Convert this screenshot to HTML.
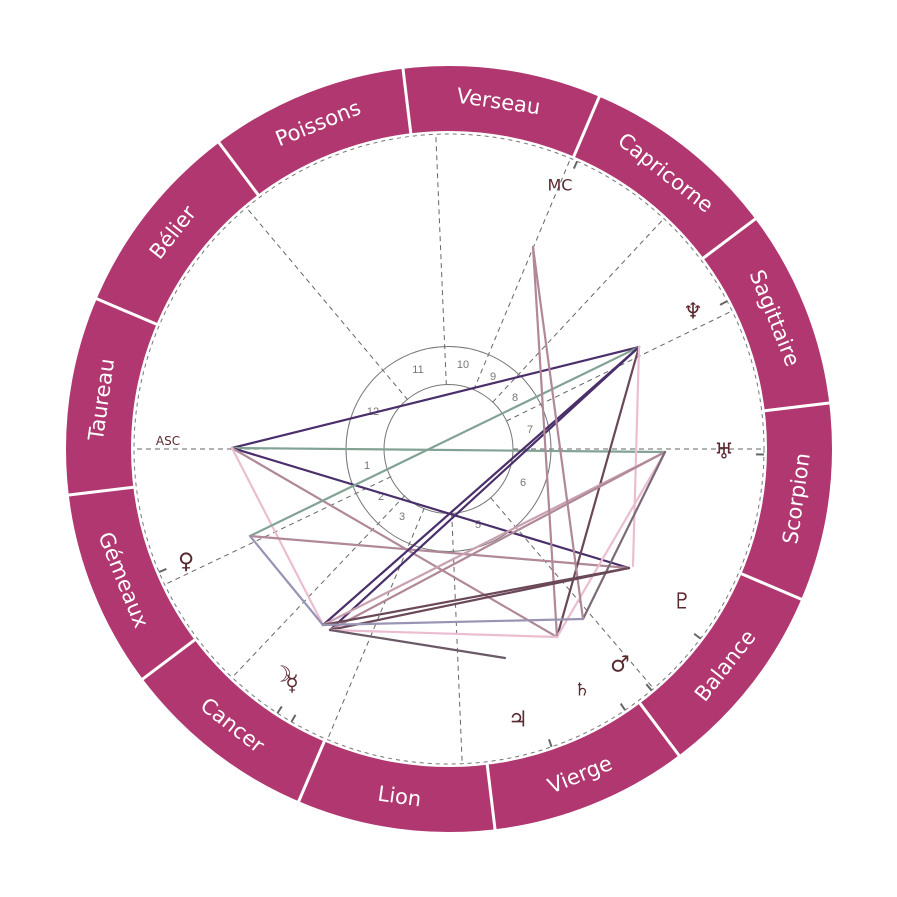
<!DOCTYPE html>
<html><head><meta charset="utf-8"><style>
html,body{margin:0;padding:0;background:#fff;}
svg{display:block;}
.sg{font-family:"DejaVu Sans","Liberation Sans",sans-serif;font-size:21px;fill:#fff;}
.hn{font-family:"Liberation Sans",sans-serif;font-size:11px;fill:#777;}
.pl{font-family:"DejaVu Sans",sans-serif;font-size:22px;fill:#5a2a30;}
</style></head><body>
<svg width="897" height="897" viewBox="0 0 897 897" xmlns="http://www.w3.org/2000/svg">
<circle cx="449" cy="449" r="350.5" fill="none" stroke="#b0376f" stroke-width="65"/>
<g transform="translate(449,449)" stroke="#fff" stroke-width="3">
<g transform="rotate(-6.9)"><line x1="316" y1="0" x2="385" y2="0"/></g>
<g transform="rotate(23.1)"><line x1="316" y1="0" x2="385" y2="0"/></g>
<g transform="rotate(53.1)"><line x1="316" y1="0" x2="385" y2="0"/></g>
<g transform="rotate(83.1)"><line x1="316" y1="0" x2="385" y2="0"/></g>
<g transform="rotate(113.1)"><line x1="316" y1="0" x2="385" y2="0"/></g>
<g transform="rotate(143.1)"><line x1="316" y1="0" x2="385" y2="0"/></g>
<g transform="rotate(173.1)"><line x1="316" y1="0" x2="385" y2="0"/></g>
<g transform="rotate(203.1)"><line x1="316" y1="0" x2="385" y2="0"/></g>
<g transform="rotate(233.1)"><line x1="316" y1="0" x2="385" y2="0"/></g>
<g transform="rotate(263.1)"><line x1="316" y1="0" x2="385" y2="0"/></g>
<g transform="rotate(293.1)"><line x1="316" y1="0" x2="385" y2="0"/></g>
<g transform="rotate(323.1)"><line x1="316" y1="0" x2="385" y2="0"/></g>
</g>
<g transform="translate(449,449)" class="sg" text-anchor="middle" dominant-baseline="central">
<g transform="rotate(188.1)"><text transform="translate(351,0) rotate(90)">Taureau</text></g>
<g transform="rotate(218.1)"><text transform="translate(351,0) rotate(90)">Bélier</text></g>
<g transform="rotate(248.1)"><text transform="translate(351,0) rotate(90)">Poissons</text></g>
<g transform="rotate(278.1)"><text transform="translate(351,0) rotate(90)">Verseau</text></g>
<g transform="rotate(308.1)"><text transform="translate(351,0) rotate(90)">Capricorne</text></g>
<g transform="rotate(338.1)"><text transform="translate(351,0) rotate(90)">Sagittaire</text></g>
<g transform="rotate(8.1)"><text transform="translate(351,0) rotate(-90)">Scorpion</text></g>
<g transform="rotate(38.1)"><text transform="translate(351,0) rotate(-90)">Balance</text></g>
<g transform="rotate(68.1)"><text transform="translate(351,0) rotate(-90)">Vierge</text></g>
<g transform="rotate(98.1)"><text transform="translate(351,0) rotate(-90)">Lion</text></g>
<g transform="rotate(128.1)"><text transform="translate(351,0) rotate(-90)">Cancer</text></g>
<g transform="rotate(158.1)"><text transform="translate(351,0) rotate(-90)">Gémeaux</text></g>
</g>
<circle cx="449" cy="449" r="315" fill="none" stroke="#777" stroke-width="1" stroke-dasharray="4,4"/>
<g transform="translate(449,449)" stroke="#666" stroke-width="1" stroke-dasharray="5,4">
<g transform="rotate(0)"><line x1="64" y1="0" x2="315" y2="0"/></g>
<g transform="rotate(49.5)"><line x1="64" y1="0" x2="315" y2="0"/></g>
<g transform="rotate(87.6)"><line x1="64" y1="0" x2="315" y2="0"/></g>
<g transform="rotate(112.7)"><line x1="64" y1="0" x2="315" y2="0"/></g>
<g transform="rotate(133.5)"><line x1="64" y1="0" x2="315" y2="0"/></g>
<g transform="rotate(154.5)"><line x1="64" y1="0" x2="315" y2="0"/></g>
<g transform="rotate(180)"><line x1="64" y1="0" x2="315" y2="0"/></g>
<g transform="rotate(230)"><line x1="64" y1="0" x2="315" y2="0"/></g>
<g transform="rotate(267.6)"><line x1="64" y1="0" x2="315" y2="0"/></g>
<g transform="rotate(292.7)"><line x1="64" y1="0" x2="315" y2="0"/></g>
<g transform="rotate(313)"><line x1="64" y1="0" x2="315" y2="0"/></g>
<g transform="rotate(334)"><line x1="64" y1="0" x2="315" y2="0"/></g>
</g>
<g transform="translate(449,449)" stroke="#666" stroke-width="2">
<g transform="rotate(-28)"><line x1="307" y1="0" x2="315" y2="0"/></g>
<g transform="rotate(1)"><line x1="307" y1="0" x2="315" y2="0"/></g>
<g transform="rotate(37)"><line x1="307" y1="0" x2="315" y2="0"/></g>
<g transform="rotate(50)"><line x1="307" y1="0" x2="315" y2="0"/></g>
<g transform="rotate(56)"><line x1="307" y1="0" x2="315" y2="0"/></g>
<g transform="rotate(71)"><line x1="307" y1="0" x2="315" y2="0"/></g>
<g transform="rotate(120)"><line x1="307" y1="0" x2="315" y2="0"/></g>
<g transform="rotate(123)"><line x1="307" y1="0" x2="315" y2="0"/></g>
<g transform="rotate(157)"><line x1="307" y1="0" x2="315" y2="0"/></g>
<g transform="rotate(-66)"><line x1="307" y1="0" x2="315" y2="0"/></g>
</g>
<circle cx="448.5" cy="449" r="102.5" fill="none" stroke="#777" stroke-width="1"/>
<circle cx="448.5" cy="449" r="64.5" fill="none" stroke="#777" stroke-width="1"/>
<g class="hn" text-anchor="middle" dominant-baseline="central">
<text x="367" y="466">1</text><text x="381" y="497">2</text><text x="402" y="517">3</text>
<text x="478" y="525">5</text><text x="523" y="483">6</text><text x="530" y="430">7</text>
<text x="515" y="398">8</text><text x="493" y="377">9</text><text x="463" y="365">10</text>
<text x="418" y="370">11</text><text x="373" y="412">12</text>
</g>
<g fill="none" stroke-width="2.2" stroke-linecap="round">
<line x1="232" y1="448" x2="639" y2="347" stroke="#4a2f6a"/>
<line x1="232" y1="448" x2="665" y2="452" stroke="#82a294"/>
<line x1="232" y1="448" x2="629" y2="568" stroke="#4a2f6a"/>
<line x1="232" y1="448" x2="557" y2="637" stroke="#b08898"/>
<line x1="232" y1="448" x2="323" y2="625" stroke="#ebbdd1"/>
<line x1="250" y1="536" x2="639" y2="347" stroke="#82a294"/>
<line x1="250" y1="536" x2="629" y2="568" stroke="#b08898"/>
<line x1="250" y1="536" x2="323" y2="625" stroke="#9a94b4"/>
<line x1="639" y1="347" x2="323" y2="625" stroke="#4a2f6a"/>
<line x1="639" y1="347" x2="330" y2="630" stroke="#4a2f6a"/>
<line x1="639" y1="347" x2="557" y2="637" stroke="#6a4858"/>
<line x1="639" y1="347" x2="633" y2="566" stroke="#ebbdd1"/>
<line x1="665" y1="452" x2="557" y2="637" stroke="#ebbdd1"/>
<line x1="665" y1="452" x2="323" y2="625" stroke="#c8a0b0"/>
<line x1="665" y1="452" x2="330" y2="630" stroke="#b08898"/>
<line x1="665" y1="452" x2="583" y2="619" stroke="#7a6a78"/>
<line x1="533" y1="247" x2="557" y2="637" stroke="#b08898"/>
<line x1="533" y1="247" x2="583" y2="619" stroke="#b08898"/>
<line x1="629" y1="568" x2="323" y2="625" stroke="#6a4858"/>
<line x1="629" y1="568" x2="330" y2="630" stroke="#6a4858"/>
<line x1="330" y1="630" x2="557" y2="637" stroke="#ebbdd1"/>
<line x1="323" y1="625" x2="583" y2="619" stroke="#9a94b4"/>
<line x1="330" y1="630" x2="505" y2="658" stroke="#6a5a68"/>
</g>
<g class="pl" text-anchor="middle" dominant-baseline="central">
<text x="693" y="312">♆</text><text x="724" y="452">♅</text><text x="682" y="602">♇</text>
<text x="620" y="665">♂</text><text x="582" y="690" font-size="18">♄</text><text x="518" y="720">♃</text>
<text x="282" y="675">☽</text><text x="292" y="684">☿</text><text x="186" y="562">♀</text>
</g>
<text x="560" y="185" font-family="DejaVu Sans,sans-serif" font-size="16" fill="#5a2a30" text-anchor="middle" dominant-baseline="central">MC</text>
<text x="168" y="441" font-family="DejaVu Sans,sans-serif" font-size="12" fill="#5a2a30" text-anchor="middle" dominant-baseline="central">ASC</text>
</svg>
</body></html>
